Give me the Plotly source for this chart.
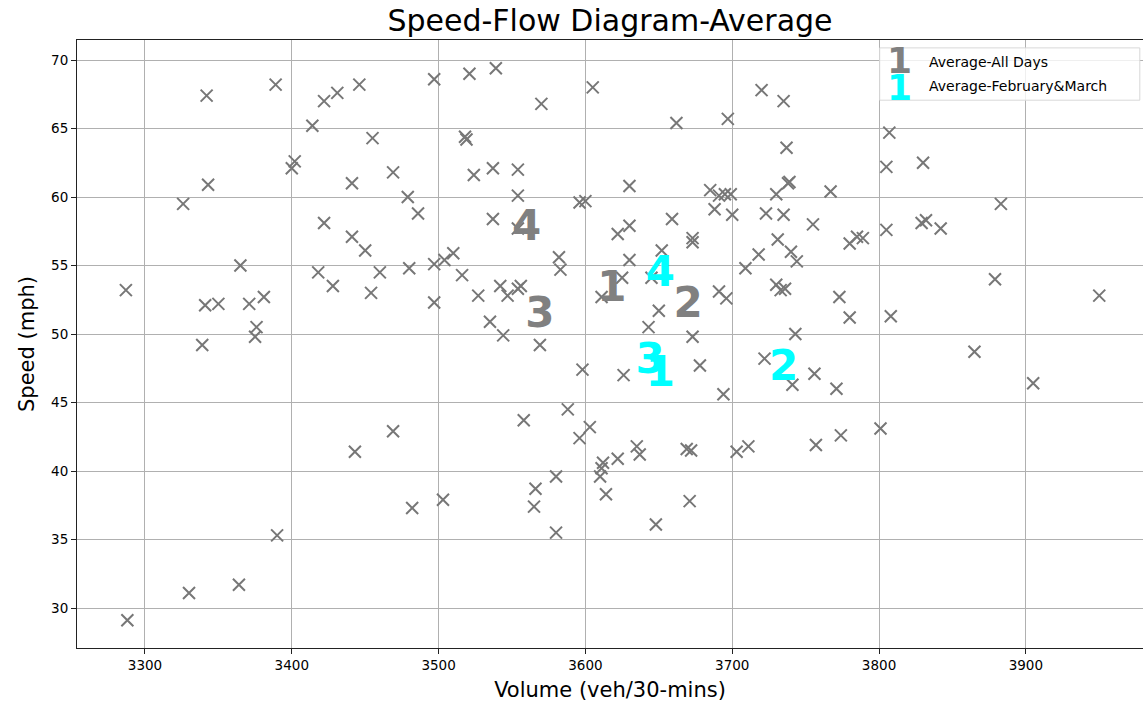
import plotly.graph_objects as go

# Daily observations: volume (veh/30-mins) and speed (mph)
volume = [
    3342, 3389, 3422, 3431, 3446, 3497, 3414, 3455, 3402, 3400,
    3441, 3469, 3343, 3326, 3479, 3486, 3422, 3441, 3450,
    3521, 3539, 3570, 3605, 3662, 3697, 3720, 3735, 3518, 3519,
    3524, 3537, 3554, 3554, 3596, 3600, 3630, 3685, 3691, 3695,
    3699, 3688, 3700, 3730, 3738, 3739, 3737, 3723, 3735, 3731,
    3537, 3554, 3622, 3630, 3659, 3673, 3673,
    3807, 3805, 3830, 3767, 3883, 3755, 3805, 3829, 3832, 3842,
    3780, 3785, 3789,
    3740, 3744, 3736, 3773, 3780, 3808, 3879, 3950, 3743, 3865,
    3756, 3741, 3771, 3905, 3801, 3774, 3757,
    3287, 3341, 3350, 3339, 3365, 3371, 3381, 3376, 3375, 3418,
    3428, 3460, 3454, 3480, 3497, 3497, 3469, 3443,
    3504, 3510, 3516, 3527, 3542, 3547, 3554, 3556, 3535, 3544,
    3569, 3582, 3583, 3598, 3611, 3625, 3630, 3652, 3645, 3650,
    3643, 3626, 3673, 3678, 3694, 3691, 3696, 3709, 3718, 3730,
    3733, 3722, 3558, 3588, 3603, 3596, 3635, 3637, 3669, 3672,
    3703, 3711,
    3482, 3390, 3364, 3330, 3288, 3503, 3566, 3565, 3580, 3580,
    3612, 3611, 3610, 3622, 3614, 3648, 3671,
]
speed = [
    67.4, 68.2, 67.0, 67.6, 68.2, 68.6, 65.2, 64.3, 62.6, 62.1,
    61.0, 61.8, 60.9, 59.5, 60.0, 58.8, 58.1, 57.1, 56.1,
    69.0, 69.4, 66.8, 68.0, 65.4, 65.7, 67.8, 67.0, 64.4, 64.2,
    61.6, 62.1, 62.0, 60.1, 59.6, 59.7, 60.8, 60.5, 60.1, 60.2,
    60.2, 59.1, 58.7, 60.2, 61.0, 61.1, 63.6, 58.8, 58.7, 56.9,
    58.4, 57.7, 57.3, 57.9, 58.4, 57.0, 56.7,
    64.7, 62.2, 62.5, 60.4, 59.5, 58.0, 57.6, 58.1, 58.3, 57.7,
    56.6, 57.1, 57.0,
    56.0, 55.3, 53.3, 52.7, 51.2, 51.3, 54.0, 52.8, 50.0, 48.7,
    47.1, 46.3, 46.0, 46.4, 43.1, 42.6, 41.9,
    53.2, 52.1, 52.2, 49.2, 55.0, 52.2, 52.7, 50.5, 49.8, 54.5,
    53.5, 54.5, 53.0, 54.8, 55.1, 52.3, 42.9, 41.4,
    55.4, 55.9, 54.3, 52.8, 53.5, 52.8, 53.3, 53.5, 50.9, 49.9,
    49.2, 55.6, 54.7, 47.4, 52.7, 54.1, 55.4, 56.1, 54.1, 51.7,
    50.5, 47.0, 49.8, 47.7, 45.6, 53.1, 52.6, 54.8, 55.8, 53.6,
    53.2, 48.2, 43.7, 44.5, 43.2, 42.4, 41.8, 41.2, 41.6, 41.5,
    41.4, 41.8,
    37.3, 35.3, 31.7, 31.1, 29.1, 37.9, 38.7, 37.4, 39.6, 35.5,
    40.6, 40.2, 39.6, 40.9, 38.3, 36.1, 37.8,
]

# Cluster averages (labels 1-4)
cluster_labels = ["1", "2", "3", "4"]
avg_all_volume = [3618, 3670, 3569, 3560]
avg_all_speed = [53.2, 52.0, 51.3, 57.6]
avg_fm_volume = [3651, 3735, 3644, 3651]
avg_fm_speed = [47.0, 47.4, 47.9, 54.3]

legend_names = ["Average-All Days", "Average-February&March"]
x_ticks = [3300, 3400, 3500, 3600, 3700, 3800, 3900]
y_ticks = [30, 35, 40, 45, 50, 55, 60, 65, 70]

GRAY = "#808080"
CYAN = "#00FFFF"
FONT = "DejaVu Sans"

fig = go.Figure()
fig.add_trace(go.Scatter(
    x=volume, y=speed, mode="markers",
    marker=dict(symbol="x-thin", size=12, color="#777777",
                line=dict(width=2, color="#777777")),
    showlegend=False, hoverinfo="skip",
))
fig.add_trace(go.Scatter(
    x=avg_all_volume, y=avg_all_speed, mode="text", text=cluster_labels,
    textposition="middle center",
    textfont=dict(family=FONT, size=42, color=GRAY, weight="bold"),
    showlegend=False,
))
fig.add_trace(go.Scatter(
    x=avg_fm_volume, y=avg_fm_speed, mode="text", text=cluster_labels,
    textposition="middle center",
    textfont=dict(family=FONT, size=42, color=CYAN, weight="bold"),
    showlegend=False,
))

# Custom legend (box + marker glyphs + labels)
fig.add_shape(type="rect", xref="paper", yref="paper",
              x0=0.753, x1=0.997, y0=0.901, y1=0.987,
              line=dict(color="#d8d8d8", width=1), fillcolor="rgba(255,255,255,0.8)",
              layer="above")
for i, (name, col) in enumerate(zip(legend_names, [GRAY, CYAN])):
    yc = [0.966, 0.922][i]
    fig.add_annotation(xref="paper", yref="paper", x=0.772, y=yc,
                       text=cluster_labels[0], showarrow=False,
                       font=dict(family=FONT, size=36, color=col, weight="bold"),
                       xanchor="center", yanchor="middle")
    fig.add_annotation(xref="paper", yref="paper", x=0.797, y=[0.964, 0.924][i],
                       text=name, showarrow=False,
                       font=dict(family=FONT, size=14, color="black"),
                       xanchor="left", yanchor="middle")

axis_common = dict(
    showline=True, mirror=True, linecolor="#222222", linewidth=1,
    ticks="outside", ticklen=5, tickwidth=1, tickcolor="#222222",
    showgrid=True, gridcolor="#b0b0b0", gridwidth=1, zeroline=False,
    tickfont=dict(family=FONT, size=13.5, color="black"),
)
fig.update_xaxes(range=[3253.7, 3979.8], tickvals=x_ticks,
                 ticktext=[str(v) for v in x_ticks],
                 title=dict(text="Volume (veh/30-mins)", standoff=10,
                            font=dict(family=FONT, size=21, color="black")),
                 **axis_common)
fig.update_yaxes(range=[27.08, 71.46], tickvals=y_ticks,
                 ticktext=[str(v) for v in y_ticks],
                 title=dict(text="Speed (mph)", standoff=10,
                            font=dict(family=FONT, size=21, color="black")),
                 **axis_common)

fig.update_layout(
    width=1143, height=708,
    margin=dict(l=77, r=0, t=40, b=60),
    paper_bgcolor="white", plot_bgcolor="white",
    title=dict(text="Speed-Flow Diagram-Average", x=0.5, xref="paper",
               y=1 - 20 / 708, yref="container", xanchor="center", yanchor="middle",
               font=dict(family=FONT, size=30, color="black")),
)

fig.write_html("out.html")
